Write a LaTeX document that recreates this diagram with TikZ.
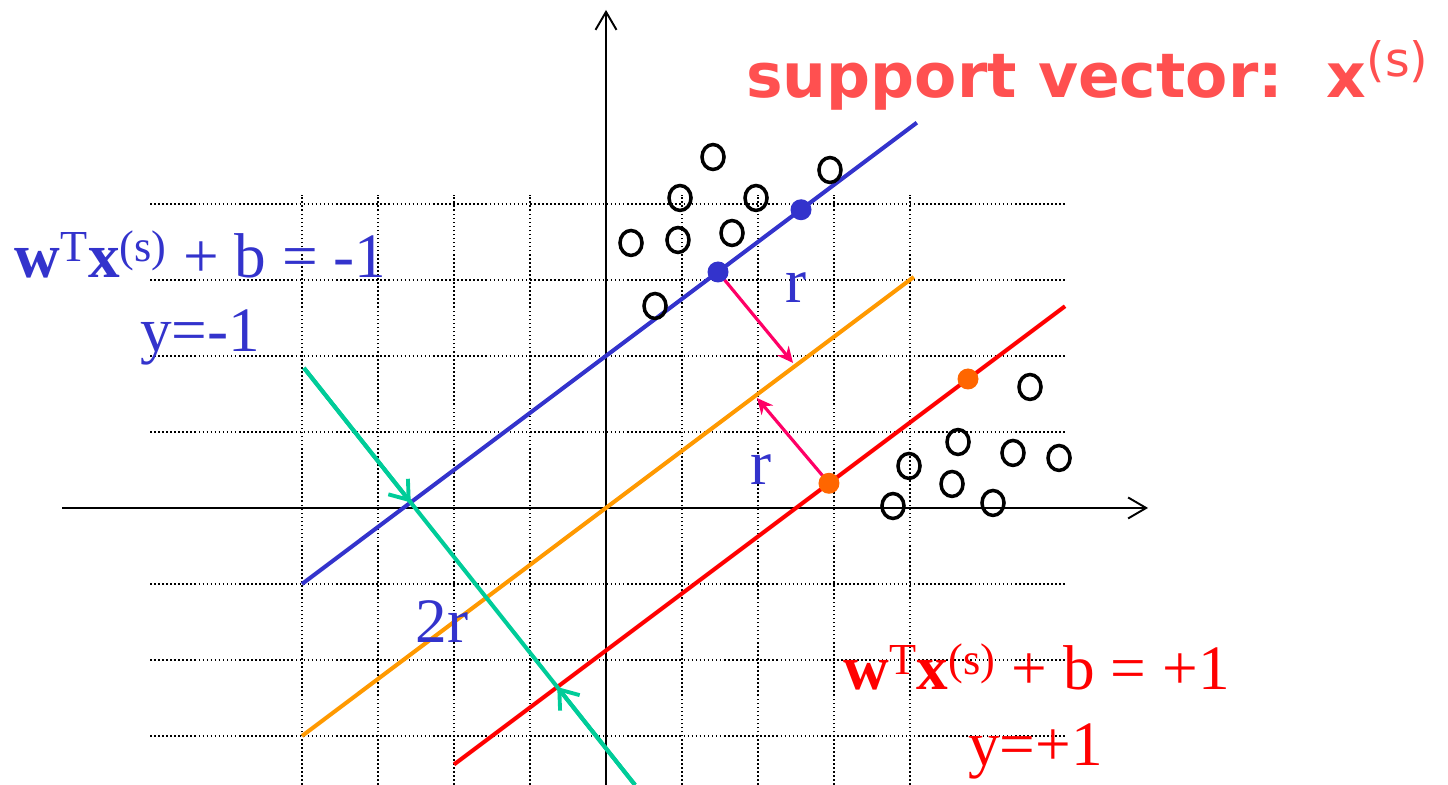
\documentclass[tikz,border=0pt]{standalone}
\usepackage{fontspec}
\setmainfont{Liberation Serif}
\newfontfamily\titlefont{DejaVu Sans}
\usetikzlibrary{arrows.meta,calc}
\definecolor{svblue}{HTML}{3333CC}
\definecolor{svred}{HTML}{FF0000}
\definecolor{svorange}{HTML}{FF9900}
\definecolor{svgreen}{HTML}{00CC99}
\definecolor{svpink}{HTML}{FF0066}
\definecolor{svdot}{HTML}{FF6600}
\definecolor{svtitle}{HTML}{FF5050}
\tikzset{>=Stealth,
  axis/.style={line width=1.1pt,-{Straight Barb[length=0.36cm,width=0.42cm,line width=1.1pt]}},
  gridline/.style={line width=0.9pt,dash pattern=on 0.9pt off 1.4pt},
  sep/.style={line width=2.3pt},
  margin/.style={line width=2.3pt,-{Straight Barb[length=0.34cm,width=0.5cm,line width=2.2pt]}},
  dist/.style={svpink,line width=1.8pt,-{Stealth[length=0.32cm,width=0.3cm]}},
  dotb/.style={circle,fill=svblue,inner sep=0pt,minimum size=0.42cm},
  doto/.style={circle,fill=svdot,inner sep=0pt,minimum size=0.42cm},
  lbl/.style={anchor=base west,inner sep=0pt,font=\fontsize{36}{40}\selectfont}}
\newcommand{\eqn}[1]{\textbf{w}\textsuperscript{T}\textbf{x}\textsuperscript{(s)} + b = #1}

\begin{document}
\begin{tikzpicture}[x=1.52cm,y=1.52cm]
\useasboundingbox (-7.974,-3.645) rectangle (11.079,6.684);
% grid
\foreach \y in {-3,-2,-1,1,2,3,4} \draw[gridline] (-6,\y)--(6.05,\y);
\foreach \x in {-4,-3,-2,-1,1,2,3,4} \draw[gridline] (\x,-3.645)--(\x,4.12);
% axes
\draw[axis] (-7.158,0)--(7.132,0);
\draw[axis] (0,-3.645)--(0,6.553);
% hyperplanes
\draw[sep,svblue] (-4,-1)--(4.09,5.07);
\draw[sep,svorange] (-4,-3)--(4.05,3.04);
\draw[sep,svred] (-2,-3.375)--(6.04,2.655);
% margin
\coordinate (g1) at (-3.974,1.842);\coordinate (g2) at (0.382,-3.645);
\draw[sep,svgreen] (g1)--(g2);
\draw[margin,svgreen] (g1)--($(g1)!0.3224!(g2)$);
\draw[margin,svgreen] (g2)--($(g1)!0.7651!(g2)$);
% data points
\foreach \p in {(1.408,4.618),(0.974,4.079),(1.974,4.079),(2.947,4.447),(0.329,3.487),(0.947,3.526),(1.658,3.618),(0.645,2.658),
  (5.579,1.592),(4.632,0.868),(5.355,0.724),(5.961,0.658),(3.987,0.553),(4.553,0.316),(5.092,0.066),(3.776,0.026)}
  \draw[line width=2pt] \p ellipse (0.145 and 0.164);
% support vectors
\coordinate (t1) at (2.461,1.908);\coordinate (t2) at (1.987,1.447);
\draw[dist] (1.474,3.105) coordinate (a1)--(t1);
\draw[dist] (2.934,0.325) coordinate (a2)--(t2);
\node[dotb] (s1) at (a1){};\node[dotb] (s2) at (2.566,3.924){};
\node[doto] (s3) at (a2){};\node[doto] (s4) at (4.763,1.697){};
% labels
\node[lbl,svtitle,font=\titlefont\bfseries\fontsize{35}{40}\selectfont] (title) at (1.842,5.395)
  {support vector:\hspace{25pt}x\raisebox{12pt}{\fontsize{27}{27}\selectfont\mdseries(s)}};
\node[lbl,svblue] (eqb) at (-7.789,3.039){\eqn{-1}};
\node[lbl,svblue] (yb) at (-6.132,2.053){y=-1};
\node[lbl,svblue] (r1) at (2.355,2.697){r};
\node[lbl,svblue] (r2) at (1.895,0.303){r};
\node[lbl,svblue] (r3) at (-2.513,-1.776){2r};
\node[lbl,svred] (eqr) at (3.118,-2.395){\eqn{+1}};
\node[lbl,svred] (yr) at (4.763,-3.382){y=+1};
\end{tikzpicture}
\end{document}
